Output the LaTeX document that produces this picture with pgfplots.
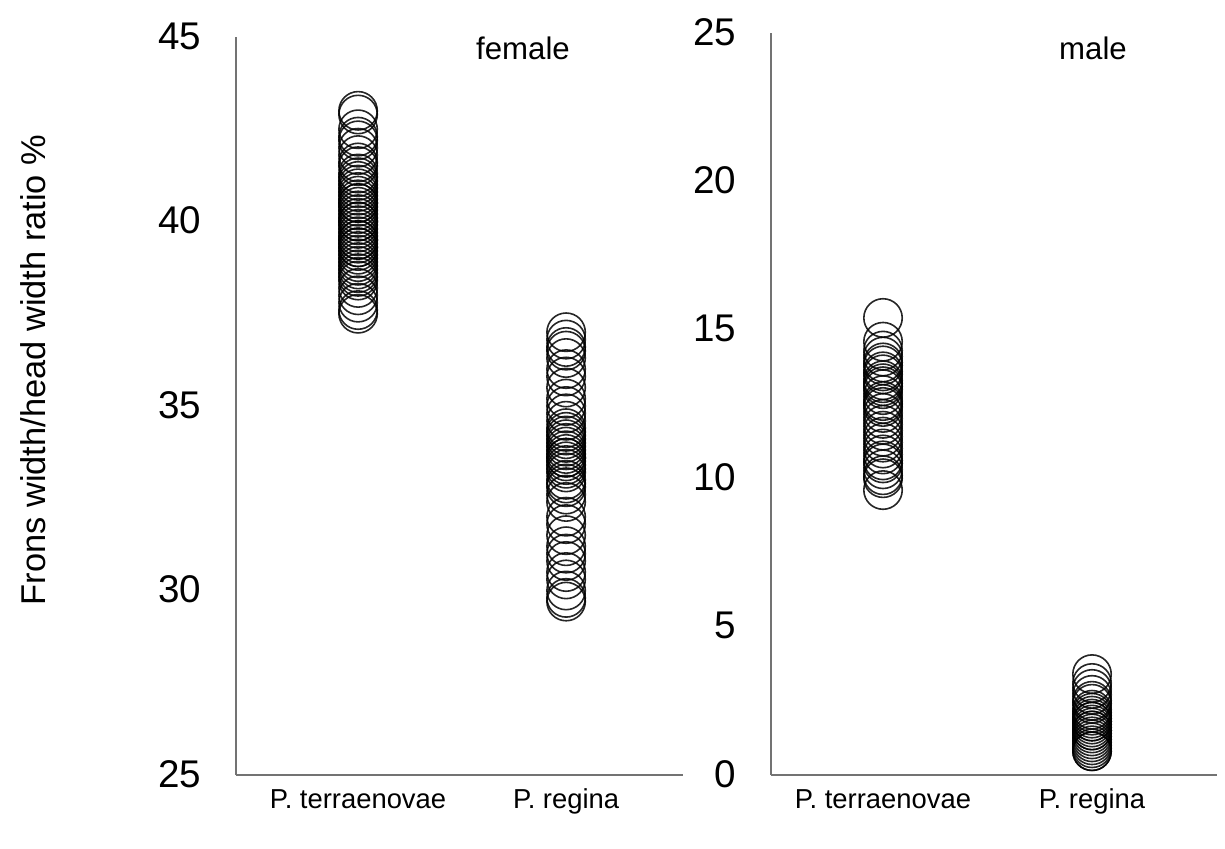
\documentclass[border=0pt]{standalone}
\usepackage{fontspec}
\setmainfont{Liberation Sans}
\usepackage{pgfplots}
\pgfplotsset{compat=1.18}
\begin{document}
\begin{tikzpicture}
\path[use as bounding box] (0,0) rectangle (612.5pt,424pt);
\pgfplotsset{
  panel/.style={
    scale only axis,
    axis x line=bottom, axis y line=left,
    axis line style={-, draw=gray!90!black, line width=0.9pt},
    major tick length=0pt,
    xtick={1,2}, xticklabels={P. terraenovae, P. regina},
    xticklabel style={font=\fontsize{13.7}{16}\selectfont, text height=1.6ex, text depth=0.4ex, yshift=-5pt},
    yticklabel style={font=\fontsize{19.3}{22}\selectfont, xshift=-14pt, yshift=0.5pt},
    /pgf/number format/assume math mode=true,
    clip=false,
  },
  pts/.style={only marks, mark=o, mark size=9.6pt, mark options={draw=black, line width=0.8pt, draw opacity=0.85}},
}
% female
\begin{axis}[panel, at={(118pt,36.5pt)}, anchor=south west,
  width=223.5pt, height=369pt, xmin=0.413, xmax=2.562, ymin=25, ymax=45,
  ytick={25,30,35,40,45}]
\addplot[pts] coordinates {
(1,43.0)(1,42.9)(1,42.5)(1,42.3)(1,42.2)(1,42.0)(1,41.8)(1,41.6)(1,41.5)(1,41.3)
(1,41.2)(1,41.0)(1,40.9)(1,40.8)(1,40.7)(1,40.6)(1,40.5)(1,40.4)(1,40.3)(1,40.2)
(1,40.1)(1,40.0)(1,39.9)(1,39.8)(1,39.7)(1,39.6)(1,39.5)(1,39.4)(1,39.3)(1,39.2)
(1,39.1)(1,39.0)(1,38.9)(1,38.8)(1,38.6)(1,38.5)(1,38.4)(1,38.2)(1,38.0)(1,37.8)
(1,37.5)(1,37.6)(1,40.5)(1,39.5)(1,40.0)(1,38.7)(1,41.1)(1,39.3)
};
\addplot[pts] coordinates {
(2,37.0)(2,36.8)(2,36.6)(2,36.5)(2,36.3)(2,36.0)(2,35.8)(2,35.5)(2,35.2)(2,35.0)
(2,34.8)(2,34.6)(2,34.4)(2,34.3)(2,34.2)(2,34.0)(2,33.9)(2,33.8)(2,33.7)(2,33.6)
(2,33.5)(2,33.4)(2,33.3)(2,33.2)(2,33.0)(2,32.8)(2,32.6)(2,32.4)(2,32.0)(2,31.8)
(2,31.5)(2,31.2)(2,31.0)(2,30.8)(2,30.5)(2,30.3)(2,30.0)(2,29.8)(2,29.7)(2,34.1)
(2,33.6)(2,32.9)
};
\end{axis}
% male
\begin{axis}[panel, at={(385.5pt,36.5pt)}, anchor=south west,
  width=223pt, height=371pt, xmin=0.464, xmax=2.598, ymin=0, ymax=25,
  ytick={0,5,10,15,20,25}]
\addplot[pts] coordinates {
(1,15.4)(1,14.6)(1,14.3)(1,14.1)(1,13.9)(1,13.8)(1,13.6)(1,13.5)(1,13.3)(1,13.1)
(1,13.0)(1,12.8)(1,12.6)(1,12.4)(1,12.2)(1,12.0)(1,11.8)(1,11.6)(1,11.4)(1,11.2)
(1,11.0)(1,10.8)(1,10.6)(1,10.5)(1,10.3)(1,10.1)(1,10.0)(1,9.6)(1,12.5)(1,13.2)
};
\addplot[pts] coordinates {
(2,3.4)(2,3.1)(2,2.9)(2,2.7)(2,2.5)(2,2.4)(2,2.2)(2,2.1)(2,2.0)(2,1.9)
(2,1.8)(2,1.7)(2,1.6)(2,1.5)(2,1.4)(2,1.3)(2,1.2)(2,1.1)(2,1.0)(2,0.9)
(2,0.8)(2,0.8)(2,1.5)(2,1.8)
};
\end{axis}
\node[font=\fontsize{15.6}{18}\selectfont] at (261.5pt,400pt) {female};
\node[font=\fontsize{15.6}{18}\selectfont] at (546.5pt,400pt) {male};
\node[font=\fontsize{17.2}{20}\selectfont, rotate=90] at (16.5pt,239pt) {Frons width/head width ratio \%};
\end{tikzpicture}
\end{document}
